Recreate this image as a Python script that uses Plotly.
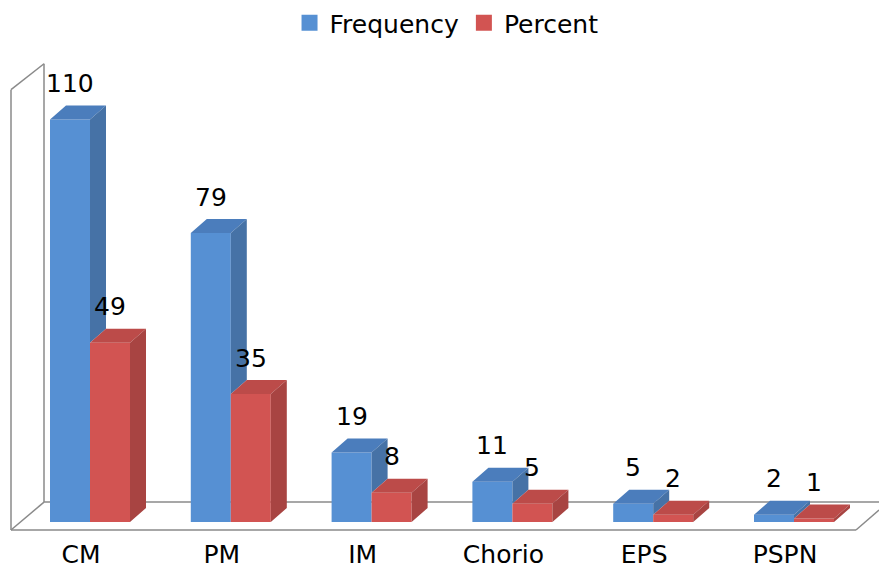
import plotly.graph_objects as go

# ---- data ----
categories = ["CM", "PM", "IM", "Chorio", "EPS", "PSPN"]
frequency = [110, 79, 19, 11, 5, 2]
percent = [49, 35, 8, 5, 2, 1]

# ---- geometry (pixel layout of the reference) ----
W, H = 879, 570
MB = 36
PLOT_H = H - MB
X0, STEP = 90.0, 140.8      # pixel x of first category centre, category spacing
Y0, PPU = 522.0, 3.673      # pixel y of value 0, pixels per unit


def px_x(px):
    return (px - X0) / STEP


def px_y(py):
    return (Y0 - py) / PPU


BAR_W = 40 / STEP
DX = 16 / STEP
DY = 14 / PPU
FONT = "DejaVu Sans"
FS = 25

BLUE_FRONT, BLUE_TOP, BLUE_SIDE = "#5690D3", "#4B7DBC", "#4672A6"
RED_FRONT, RED_TOP, RED_SIDE = "#D25452", "#BC4B49", "#A84442"

xs = list(range(len(categories)))


def poly_trace(polys, color):
    px, py = [], []
    for p in polys:
        for (a, b) in p:
            px.append(a)
            py.append(b)
        px.append(p[0][0])
        py.append(p[0][1])
        px.append(None)
        py.append(None)
    return go.Scatter(x=px, y=py, mode="lines", fill="toself", fillcolor=color,
                      line=dict(width=0, color=color), showlegend=False,
                      hoverinfo="skip")


blue_top, blue_side, red_top, red_side = [], [], [], []
for i, f, p in zip(xs, frequency, percent):
    # blue bar: [i - BAR_W, i]
    l, r = i - BAR_W, i
    blue_top.append([(l, f), (r, f), (r + DX, f + DY), (l + DX, f + DY)])
    low = min(f, p)
    blue_side.append([(r, f), (r + DX, f + DY), (r + DX, low + DY), (r, low)])
    # red bar: [i, i + BAR_W]
    l, r = i, i + BAR_W
    red_top.append([(l, p), (r, p), (r + DX, p + DY), (l + DX, p + DY)])
    red_side.append([(r, p), (r + DX, p + DY), (r + DX, DY), (r, 0)])

fig = go.Figure()
fig.add_trace(go.Bar(x=xs, y=frequency, name="Frequency", offset=-BAR_W, width=BAR_W,
                     marker=dict(color=BLUE_FRONT, line=dict(width=0)), hoverinfo="skip",
                     showlegend=False))
fig.add_trace(go.Bar(x=xs, y=percent, name="Percent", offset=0, width=BAR_W,
                     marker=dict(color=RED_FRONT, line=dict(width=0)), hoverinfo="skip",
                     showlegend=False))
fig.add_trace(poly_trace(blue_top, BLUE_TOP))
fig.add_trace(poly_trace(blue_side, BLUE_SIDE))
fig.add_trace(poly_trace(red_top, RED_TOP))
fig.add_trace(poly_trace(red_side, RED_SIDE))
# legend entries (square swatches)
for name, col in (("Frequency", BLUE_FRONT), ("Percent", RED_FRONT)):
    fig.add_trace(go.Scatter(x=[None], y=[None], mode="markers", name=name,
                             marker=dict(symbol="square", size=16, color=col),
                             hoverinfo="skip"))

# value labels
annotations = []
for i, f, p in zip(xs, frequency, percent):
    for cx, v in ((i - BAR_W / 2, f), (i + BAR_W / 2, p)):
        annotations.append(dict(x=cx, y=v + DY + 22 / PPU, text=str(v), showarrow=False,
                                xanchor="center", yanchor="middle",
                                font=dict(family=FONT, size=FS, color="#000000")))

# walls / floor outline
wall = [((11, 88), (11, 530)), ((11, 88), (44, 62)), ((44, 62), (44, 502)),
        ((11, 530), (44, 502)), ((44, 502), (879, 502)), ((11, 530), (856, 530)),
        ((856, 530), (879, 510))]
shapes = []
for (a, b) in wall:
    shapes.append(dict(type="line", xref="x", yref="y", layer="below",
                       x0=px_x(a[0]), y0=px_y(a[1]), x1=px_x(b[0]), y1=px_y(b[1]),
                       line=dict(color="#8A8A8A", width=1.5)))

fig.update_layout(
    width=W, height=H,
    margin=dict(l=0, r=0, t=0, b=MB),
    paper_bgcolor="white", plot_bgcolor="white",
    barmode="overlay",
    font=dict(family=FONT, size=FS, color="#000000"),
    showlegend=True,
    legend=dict(orientation="h", x=0.508, xanchor="center",
                y=(PLOT_H - 21) / PLOT_H, yanchor="middle",
                font=dict(family=FONT, size=FS), bgcolor="rgba(0,0,0,0)",
                itemwidth=30, tracegroupgap=0),
    annotations=annotations,
    shapes=shapes,
    xaxis=dict(range=[px_x(0), px_x(W)], tickvals=[i - 9 / STEP for i in xs],
               ticktext=categories, showgrid=False, zeroline=False, showline=False,
               ticks="", ticklabelstandoff=3, automargin=False,
               tickfont=dict(family=FONT, size=FS)),
    yaxis=dict(range=[px_y(PLOT_H), px_y(0)], visible=False, showgrid=False, zeroline=False),
)

fig.write_html("out.html", config={"displayModeBar": False},
               post_script="document.body.style.margin='0px';document.body.style.overflow='hidden';")
